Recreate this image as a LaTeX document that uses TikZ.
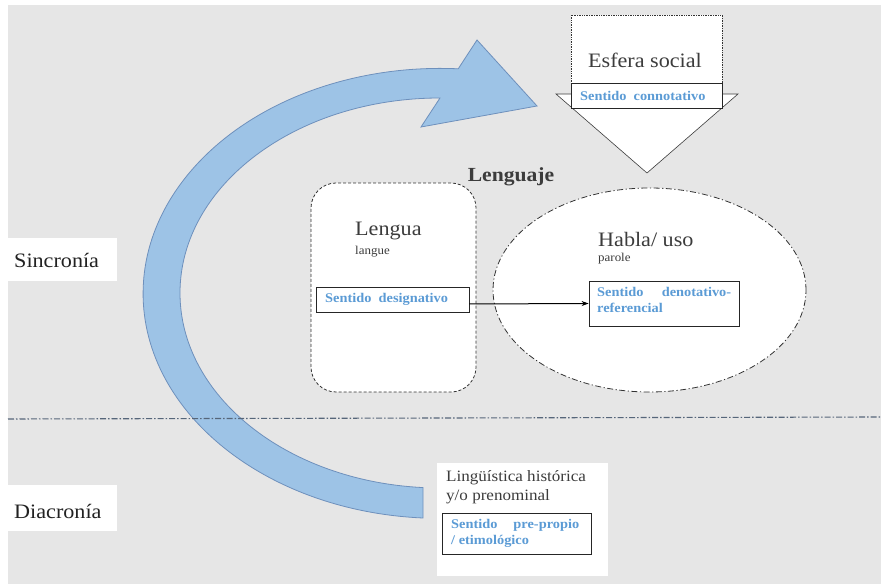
\documentclass[tikz,border=0pt]{standalone}
\usepackage{fontspec}
\setmainfont{Liberation Serif}[FakeStretch=1.08]
\usetikzlibrary{shapes.geometric,arrows.meta}
\definecolor{bg}{HTML}{E6E6E6}
\definecolor{txt}{HTML}{3C3C3C}
\definecolor{dark}{HTML}{222222}
\definecolor{blu}{HTML}{5B9BD5}
\definecolor{arrfill}{HTML}{9DC3E6}
\definecolor{arrline}{HTML}{6E90BC}
\definecolor{sepc}{HTML}{56667A}
\tikzset{
  bigtxt/.style={font=\fontsize{20.5}{24}\selectfont, text=txt, inner sep=0pt},
  smalltxt/.style={font=\fontsize{12}{14}\selectfont, text=txt, inner sep=0pt},
  sidetxt/.style={font=\fontsize{20.5}{24}\selectfont, text=dark, inner sep=0pt},
  bluetxt/.style={font=\bfseries\fontsize{13.3}{16}\selectfont, text=blu, inner sep=0pt, align=left},
  sbox/.style={draw=black!85, fill=white, line width=0.8pt, inner sep=0pt},
  whitebg/.style={fill=white, draw=none, inner sep=0pt},
}
\begin{document}
\begin{tikzpicture}[x=1pt,y=1pt]
\useasboundingbox (0,0) rectangle (881,584);
\fill[bg] (8,0) rectangle (881,579);

% side labels
\node[whitebg, minimum width=109, minimum height=43] (sinbox) at (62.5,324.5) {};
\node[sidetxt, anchor=west] (sincronia) at (14,324) {Sincronía};
\node[whitebg, minimum width=109, minimum height=46] (diabox) at (62.5,76) {};
\node[sidetxt, anchor=west] (diacronia) at (14,73) {Diacronía};

% curved arrow
\filldraw[fill=arrfill, draw=arrline, line width=0.8pt]
  (423,66) arc[start angle=266.7, end angle=86.5, x radius=297, y radius=225]
  -- (477,544) -- (537,478) -- (421,457) -- (440,486)
  arc[start angle=90, end angle=266.25, x radius=260, y radius=195] -- cycle;

% separator
\draw[sepc, line width=1.1pt, dash pattern=on 6pt off 2pt on 1.5pt off 2pt] (8,165) -- (881,167);

% Esfera social block arrow
\fill[white] (571,569) -- (571,490) -- (556,490) -- (647,411) -- (738,490) -- (722,490) -- (722,569) -- cycle;
\draw[densely dotted, line width=0.7pt, black!80] (571,490) -- (571,569) -- (722,569) -- (722,490);
\draw[line width=0.6pt, txt] (571,490) -- (556,490) -- (647,411) -- (738,490) -- (722,490);
\node[sbox, minimum width=151, minimum height=25] (conn) at (646.5,488.5) {};
\node[bluetxt, anchor=west] (conntxt) at (580,488) {Sentido\ \ connotativo};
\node[bigtxt] (esfera) at (645,524) {Esfera social};

% Lenguaje
\node[font=\bfseries\fontsize{20}{24}\selectfont, text=txt, inner sep=0pt] (lenguaje) at (511,407) {Lenguaje};

% Lengua box
\node[draw=black!80, dash pattern=on 3pt off 2pt, fill=white, rounded corners=25pt,
      minimum width=165, minimum height=209, line width=0.8pt] (lengua) at (393.5,296.5) {};
\node[bigtxt, anchor=west] (lenguatxt) at (355,353) {Lengua};
\node[smalltxt, anchor=west] (langue) at (355,332) {langue};
\node[sbox, minimum width=153, minimum height=25] (desig) at (392.5,284.5) {};
\node[bluetxt, anchor=west] (desigtxt) at (325,285) {Sentido\ \ designativo};

% Habla ellipse
\node[draw=black!80, ellipse, fill=white, minimum width=313, minimum height=204, line width=0.8pt,
      dash pattern=on 6pt off 2.5pt on 1.2pt off 2.5pt] (habla) at (649.5,294) {};
\node[bigtxt, anchor=west] (hablatxt) at (598,345) {Habla/ uso};
\node[smalltxt, anchor=west] (parole) at (598,325) {parole};
\node[sbox, minimum width=150, minimum height=45] (denot) at (664,280.5) {};
\node[bluetxt, anchor=north west] (denottxt) at (597,297) {\parbox{134pt}{Sentido\hfill denotativo-\\referencial}};

% connector
\draw[-{Stealth[length=7pt,width=5pt]}, line width=1pt, black] ([yshift=-4.5pt]desig.east) -- (denot.west);

% Linguistica historica
\node[whitebg, minimum width=171, minimum height=113] (histbox) at (522.5,64.5) {};
\node[font=\fontsize{15.8}{19}\selectfont, text=txt, inner sep=0pt, anchor=north west, align=left] (histtxt) at (446,114) {Lingüística histórica\\y/o prenominal};
\node[sbox, minimum width=149, minimum height=41] (prep) at (516.5,50.5) {};
\node[bluetxt, anchor=north west] (preptxt) at (451,65) {\parbox{128pt}{Sentido\hfill pre-propio\\/ etimológico}};
\end{tikzpicture}
\end{document}
